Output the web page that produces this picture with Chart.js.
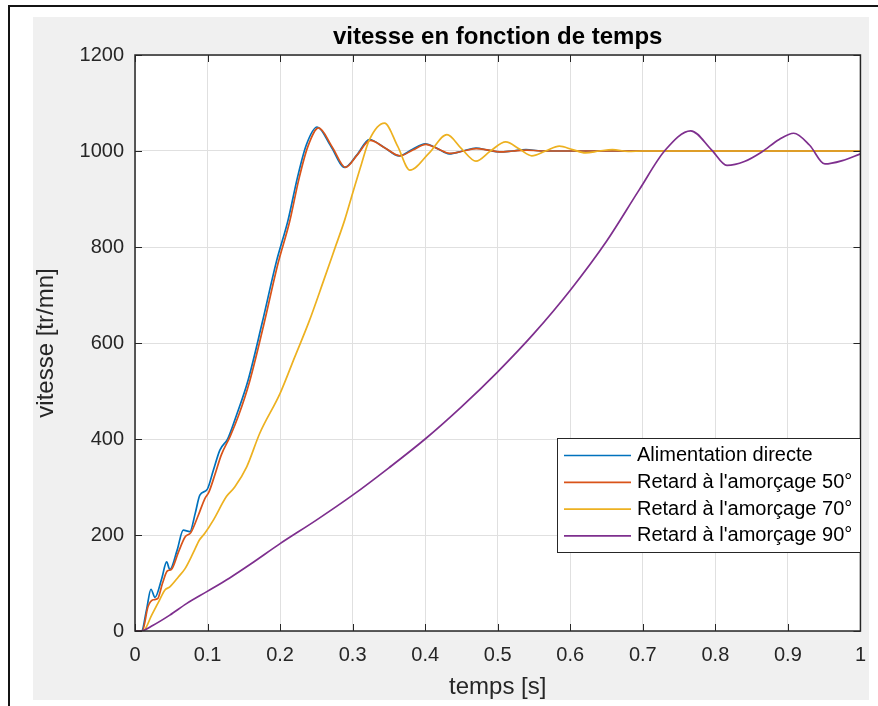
<!DOCTYPE html>
<html>
<head>
<meta charset="utf-8">
<script src="https://cdn.jsdelivr.net/npm/chart.js@4.4.1/dist/chart.umd.min.js"></script>
<style>
  html, body { margin: 0; padding: 0; background: #ffffff; }
  canvas { display: block; }
</style>
</head>
<body>
<canvas id="chart" width="878" height="706"></canvas>
<script>
// Speed response of the motor for different firing delays
const seriesLabels = [
  "Alimentation directe",
  "Retard à l'amorçage 50°",
  "Retard à l'amorçage 70°",
  "Retard à l'amorçage 90°"
];
const seriesColors = ["#0072BD", "#D95319", "#EDB120", "#7E2F8E"];

// time [s] / speed [tr/mn] samples
const tDirect = [0, 0.009, 0.016, 0.022, 0.0275, 0.037, 0.0436, 0.048, 0.058, 0.0665, 0.0757, 0.083, 0.0894, 0.0995, 0.108, 0.117, 0.128, 0.14, 0.156, 0.175, 0.195, 0.211, 0.224, 0.236, 0.251, 0.27, 0.289, 0.306, 0.323, 0.343, 0.364, 0.382, 0.4, 0.417, 0.433, 0.452, 0.47, 0.486, 0.502, 0.52, 0.539, 0.56, 0.6, 0.7, 0.8, 0.9, 1];
const vDirect = [0, 0, 45, 87, 70, 110, 144, 128, 168, 210, 207, 245, 283, 295, 335, 377, 401, 450, 523, 640, 770, 856, 945, 1012, 1050, 1010, 966, 992, 1024, 1008, 990, 1003, 1015, 1005, 994, 1000, 1006, 1002, 998, 1000, 1003, 1000, 1000, 1000, 1000, 1000, 1000];

const tDelay50 = [0, 0.01, 0.018, 0.025, 0.031, 0.038, 0.0445, 0.05, 0.06, 0.069, 0.077, 0.087, 0.0963, 0.102, 0.11, 0.119, 0.131, 0.143, 0.158, 0.177, 0.197, 0.213, 0.226, 0.238, 0.253, 0.272, 0.29, 0.307, 0.324, 0.344, 0.365, 0.383, 0.401, 0.418, 0.434, 0.453, 0.471, 0.487, 0.503, 0.521, 0.54, 0.56, 0.6, 0.7, 0.8, 0.9, 1];
const vDelay50 = [0, 0, 51, 65, 67, 100, 125, 128, 165, 196, 205, 240, 276, 290, 325, 367, 405, 450, 520, 635, 765, 852, 942, 1008, 1048, 1008, 966, 993, 1022, 1007, 990, 1002, 1014, 1004, 995, 1000, 1005, 1002, 998, 1000, 1002, 1000, 1000, 1000, 1000, 1000, 1000];

const tDelay70 = [0, 0.011, 0.023, 0.034, 0.041, 0.048, 0.06, 0.069, 0.08, 0.089, 0.096, 0.108, 0.126, 0.1375, 0.154, 0.172, 0.2, 0.22, 0.24, 0.26, 0.275, 0.289, 0.3, 0.312, 0.323, 0.344, 0.362, 0.379, 0.405, 0.43, 0.45, 0.47, 0.49, 0.511, 0.53, 0.547, 0.566, 0.585, 0.603, 0.621, 0.64, 0.658, 0.68, 0.7, 0.8, 0.9, 1];
const vDelay70 = [0, 0, 33, 65, 85, 92, 113, 130, 162, 190, 203, 231, 280, 300, 342, 412, 495, 570, 645, 730, 795, 856, 912, 972, 1023, 1058, 1010, 960, 995, 1034, 1005, 979, 1000, 1019, 1004, 990, 1000, 1010, 1003, 996, 1000, 1003, 999, 1000, 1000, 1000, 1000];

const tDelay90 = [0, 0.008, 0.025, 0.048, 0.071, 0.099, 0.13, 0.16, 0.2, 0.25, 0.3, 0.35, 0.4, 0.45, 0.5, 0.55, 0.6, 0.65, 0.695, 0.731, 0.766, 0.795, 0.816, 0.84, 0.864, 0.888, 0.908, 0.93, 0.951, 0.975, 1];
const vDelay90 = [0, 0, 12, 33, 57, 82, 110, 140, 182, 231, 283, 340, 400, 467, 540, 620, 710, 812, 919, 1002, 1042, 1002, 970, 978, 998, 1024, 1037, 1012, 973, 980, 994];

const xTicks = [0, 0.1, 0.2, 0.3, 0.4, 0.5, 0.6, 0.7, 0.8, 0.9, 1];
const yTicks = [0, 200, 400, 600, 800, 1000, 1200];

const chartTitle = "vitesse en fonction de temps";
const xTitle = "temps [s]";
const yTitle = "vitesse [tr/mn]";

const FONT = "'Liberation Sans', Arial, Helvetica, sans-serif";
const AXIS_COLOR = "#262626";

const toPoints = (ts, vs) => ts.map((t, i) => ({ x: t, y: vs[i] }));
const seriesData = [
  toPoints(tDirect, vDirect),
  toPoints(tDelay50, vDelay50),
  toPoints(tDelay70, vDelay70),
  toPoints(tDelay90, vDelay90)
];

// figure background, frame and white axes area
const figureBackground = {
  id: "figureBackground",
  beforeDraw(chart) {
    const ctx = chart.ctx;
    const a = chart.chartArea;
    ctx.save();
    ctx.fillStyle = "#ffffff";
    ctx.fillRect(0, 0, chart.width, chart.height);
    ctx.fillStyle = "#f0f0f0";
    ctx.fillRect(33, 17, 836, 683);
    ctx.fillStyle = "#141414";
    ctx.fillRect(8, 5, 2, chart.height - 5);
    ctx.fillRect(8, 5, chart.width - 8, 2);
    ctx.fillStyle = "#ffffff";
    ctx.fillRect(a.left, a.top, a.right - a.left, a.bottom - a.top);
    ctx.restore();
  }
};

// axes box, inward ticks, titles and legend
const axesDecorations = {
  id: "axesDecorations",
  afterDatasetsDraw(chart) {
    const ctx = chart.ctx;
    const a = chart.chartArea;
    const xs = chart.scales.x, ys = chart.scales.y;
    ctx.save();
    ctx.strokeStyle = AXIS_COLOR;
    ctx.lineWidth = 1.5;
    ctx.strokeRect(a.left, a.top, a.right - a.left, a.bottom - a.top);
    ctx.lineWidth = 1;
    const tl = 7;
    ctx.beginPath();
    xTicks.forEach(v => {
      const p = Math.round(xs.getPixelForValue(v)) + 0.5;
      ctx.moveTo(p, a.bottom); ctx.lineTo(p, a.bottom - tl);
      ctx.moveTo(p, a.top); ctx.lineTo(p, a.top + tl);
    });
    yTicks.forEach(v => {
      const p = Math.round(ys.getPixelForValue(v)) + 0.5;
      ctx.moveTo(a.left, p); ctx.lineTo(a.left + tl, p);
      ctx.moveTo(a.right, p); ctx.lineTo(a.right - tl, p);
    });
    ctx.stroke();

    // title
    const cx = (a.left + a.right) / 2;
    ctx.fillStyle = "#000000";
    ctx.font = "bold 24px " + FONT;
    ctx.textAlign = "center";
    ctx.textBaseline = "alphabetic";
    ctx.fillText(chartTitle, cx, 44);

    // axis titles
    ctx.fillStyle = AXIS_COLOR;
    ctx.font = "24px " + FONT;
    ctx.fillText(xTitle, cx, 694);
    ctx.save();
    ctx.translate(46, (a.top + a.bottom) / 2);
    ctx.rotate(-Math.PI / 2);
    ctx.textBaseline = "middle";
    ctx.fillText(yTitle, 0, 0);
    ctx.restore();

    // legend
    const lx = 557, ly = 438, lw = 303, lh = 114;
    ctx.fillStyle = "#ffffff";
    ctx.fillRect(lx, ly, lw, lh);
    ctx.strokeStyle = AXIS_COLOR;
    ctx.lineWidth = 1;
    ctx.strokeRect(lx + 0.5, ly + 0.5, lw, lh);
    ctx.font = "20px " + FONT;
    ctx.textAlign = "left";
    ctx.textBaseline = "middle";
    chart.data.datasets.forEach((ds, i) => {
      const y = 455.5 + i * 26.8;
      ctx.strokeStyle = ds.borderColor;
      ctx.lineWidth = 1.7;
      ctx.beginPath();
      ctx.moveTo(564, y); ctx.lineTo(631, y);
      ctx.stroke();
      ctx.fillStyle = "#000000";
      ctx.fillText(ds.label, 637, y);
    });
    ctx.restore();
  }
};

const fmt = v => String(Number(v.toFixed(1)));

new Chart(document.getElementById("chart"), {
  type: "line",
  data: {
    datasets: seriesData.map((pts, i) => ({
      label: seriesLabels[i],
      data: pts,
      borderColor: seriesColors[i],
      backgroundColor: seriesColors[i],
      borderWidth: 1.7,
      pointRadius: 0,
      fill: false,
      tension: 0.4,
      cubicInterpolationMode: "monotone",
      order: 4 - i
    }))
  },
  options: {
    responsive: false,
    animation: false,
    devicePixelRatio: 1,
    layout: { padding: { left: 0, right: 16, top: 55, bottom: 0 } },
    plugins: {
      legend: { display: false },
      title: { display: false },
      tooltip: { enabled: false }
    },
    scales: {
      x: {
        type: "linear",
        min: 0,
        max: 1,
        afterBuildTicks: s => { s.ticks = xTicks.map(v => ({ value: v })); },
        afterFit: s => { s.height = 75; },
        grid: { color: "#e0e0e0", lineWidth: 1, drawTicks: false },
        border: { display: false },
        ticks: {
          padding: 12,
          maxRotation: 0,
          autoSkip: false,
          color: AXIS_COLOR,
          font: { family: FONT, size: 20 },
          callback: v => fmt(v)
        }
      },
      y: {
        type: "linear",
        min: 0,
        max: 1200,
        afterBuildTicks: s => { s.ticks = yTicks.map(v => ({ value: v })); },
        afterFit: s => { s.width = 135; },
        grid: { color: "#e0e0e0", lineWidth: 1, drawTicks: false },
        border: { display: false },
        ticks: {
          padding: 11,
          autoSkip: false,
          color: AXIS_COLOR,
          font: { family: FONT, size: 20 },
          callback: v => String(v)
        }
      }
    }
  },
  plugins: [figureBackground, axesDecorations]
});
</script>
</body>
</html>
